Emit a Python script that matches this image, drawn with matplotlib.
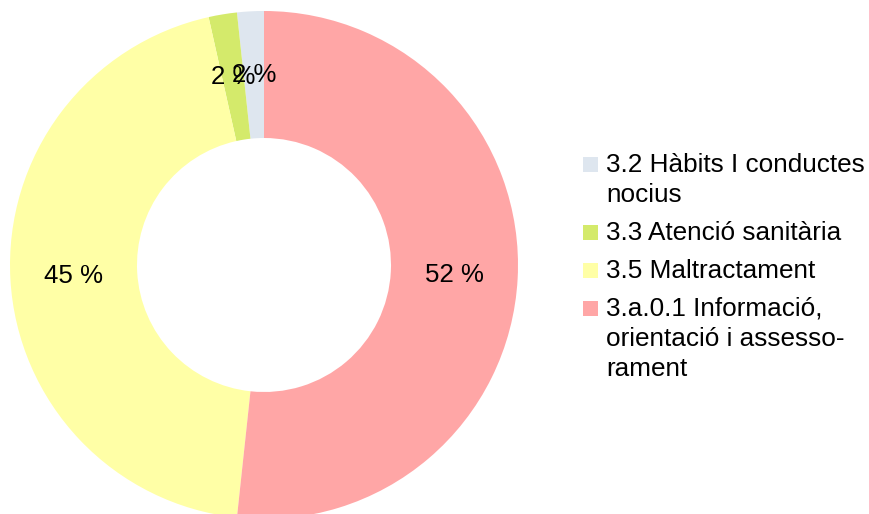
import matplotlib
matplotlib.use("Agg")
import matplotlib.pyplot as plt
from matplotlib.patches import Rectangle

plt.rcParams['font.family'] = ['Liberation Sans', 'DejaVu Sans']

categories = ["3.2 Hàbits I conductes\nnocius",
              "3.3 Atenció sanitària",
              "3.5 Maltractament",
              "3.a.0.1 Informació,\norientació i assesso-\nrament"]
values = [1.7, 1.8, 44.8, 51.7]
colors = ["#dee6ef", "#d4ea6b", "#ffffa6", "#ffa6a6"]

W, H = 869, 514
fig = plt.figure(figsize=(W / 100, H / 100), dpi=100)
cx, cy, R = 264, 265, 254
ax = fig.add_axes([(cx - R) / W, (H - cy - R) / H, 2 * R / W, 2 * R / H])
ax.pie(values, colors=colors, startangle=90, counterclock=True,
       radius=1.0, autopct=lambda p: f"{p:.0f} %", pctdistance=0.75,
       wedgeprops=dict(width=0.5, linewidth=0),
       textprops=dict(fontsize=18.6, color="black"))
ax.set_xlim(-1, 1)
ax.set_ylim(-1, 1)
ax.set_aspect("equal")
ax.axis("off")

# legend drawn manually
fs = 18.8
line_h = 30
gap = 38
baseline = 171.5
for cat, col in zip(categories, colors):
    lines = cat.split("\n")
    fig.patches.append(Rectangle((583 / W, (H - baseline) / H), 15 / W, 15 / H,
                                 transform=fig.transFigure, facecolor=col,
                                 edgecolor="none"))
    for i, ln in enumerate(lines):
        fig.text(606 / W, (H - (baseline + i * line_h)) / H, ln, fontsize=fs,
                 ha="left", va="baseline")
    baseline += (len(lines) - 1) * line_h + gap

fig.savefig("out.png", dpi=100)
